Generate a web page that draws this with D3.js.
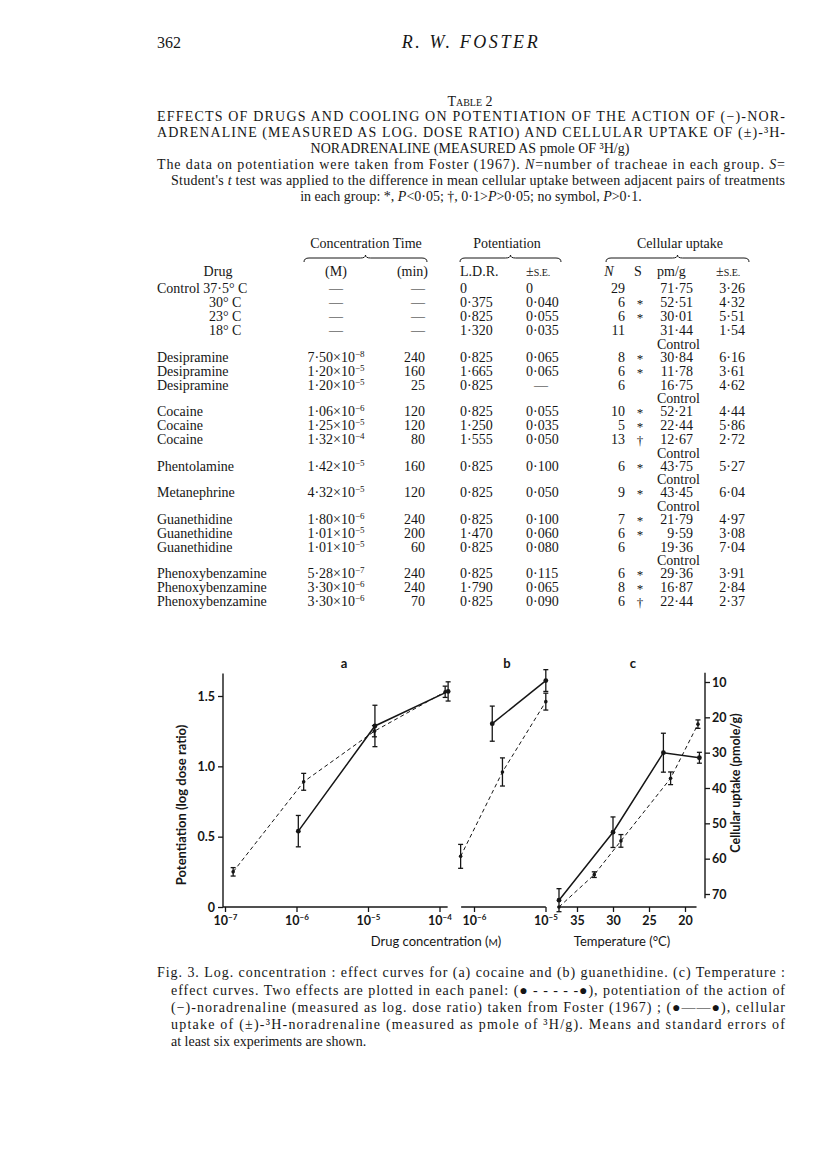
<!DOCTYPE html>
<html>
<head>
<meta charset="utf-8">
<script src="https://cdn.jsdelivr.net/npm/d3@7"></script>
<style>
  body { margin: 0; background: #fff; }
  svg { display: block; }
  .serif { font-family: "Liberation Serif", "Times New Roman", serif; fill: #161616; }
  .sans { font-family: Lato, "Noto Sans", sans-serif; fill: #161616; }
</style>
</head>
<body>
<div id="chart"></div>
<script>
// ---- table data ----
const drugs = ["Control 37·5° C", "30° C", "23° C", "18° C", "Desipramine", "Desipramine", "Desipramine",
  "Cocaine", "Cocaine", "Cocaine", "Phentolamine", "Metanephrine", "Guanethidine", "Guanethidine",
  "Guanethidine", "Phenoxybenzamine", "Phenoxybenzamine", "Phenoxybenzamine"];
const groups = [0, 0, 0, 0, 1, 1, 1, 2, 2, 2, 3, 4, 5, 5, 5, 6, 6, 6];
const concMant = ["", "", "", "", "7·50", "1·20", "1·20", "1·06", "1·25", "1·32", "1·42", "4·32", "1·80", "1·01", "1·01", "5·28", "3·30", "3·30"];
const concExp = [0, 0, 0, 0, -8, -5, -5, -6, -5, -4, -5, -5, -6, -5, -5, -7, -6, -6];
const times = ["—", "—", "—", "—", "240", "160", "25", "120", "120", "80", "160", "120", "240", "200", "60", "240", "240", "70"];
const ldr = ["0", "0·375", "0·825", "1·320", "0·825", "1·665", "0·825", "0·825", "1·250", "1·555", "0·825", "0·825", "0·825", "1·470", "0·825", "0·825", "1·790", "0·825"];
const ldrSE = ["0", "0·040", "0·055", "0·035", "0·065", "0·065", "—", "0·055", "0·035", "0·050", "0·100", "0·050", "0·100", "0·060", "0·080", "0·115", "0·065", "0·090"];
const nTrach = ["29", "6", "6", "11", "8", "6", "6", "10", "5", "13", "6", "9", "7", "6", "6", "6", "8", "6"];
const sig = ["", "*", "*", "", "*", "*", "", "*", "*", "†", "*", "*", "*", "*", "", "*", "*", "†"];
const uptake = ["71·75", "52·51", "30·01", "31·44", "30·84", "11·78", "16·75", "52·21", "22·44", "12·67", "43·75", "43·45", "21·79", "9·59", "19·36", "29·36", "16·87", "22·44"];
const uptakeSE = ["3·26", "4·32", "5·51", "1·54", "6·16", "3·61", "4·62", "4·44", "5·86", "2·72", "5·27", "6·04", "4·97", "3·08", "7·04", "3·91", "2·84", "2·37"];

// ---- figure data ----
// panel a, cocaine
const cocPotConc = [1.3e-7, 1.26e-6, 1.23e-5, 1.2e-4];
const cocPot = [0.25, 0.89, 1.25, 1.53];
const cocPotSE = [0.03, 0.06, 0.04, 0.04];
const cocUpConc = [1.06e-6, 1.25e-5, 1.32e-4];
const cocUp = [52.21, 22.44, 12.67];
const cocUpSE = [4.44, 5.86, 2.72];
// panel b, guanethidine
const guaPotConc = [6.5e-7, 2.5e-6, 1.01e-5];
const guaPot = [0.36, 0.96, 1.46];
const guaPotSE = [0.085, 0.1, 0.06];
const guaUpConc = [1.8e-6, 1.01e-5];
const guaUp = [21.79, 9.59];
const guaUpSE = [4.97, 3.08];
// panel c, temperature
const tempPotT = [37.5, 32.6, 28.9, 22.0, 18.2];
const tempPot = [0, 0.23, 0.47, 0.915, 1.3];
const tempPotSE = [0, 0.02, 0.045, 0.045, 0.03];
const tempUpT = [37.5, 30, 23, 18];
const tempUp = [71.75, 52.51, 30.01, 31.44];
const tempUpSE = [3.26, 4.32, 5.51, 1.54];

const potTicks = [0, 0.5, 1.0, 1.5];
const upTicks = [10, 20, 30, 40, 50, 60, 70];
const concTicksA = [1e-7, 1e-6, 1e-5, 1e-4];
const concTicksB = [1e-6, 1e-5];
const tempTicks = [35, 30, 25, 20];

const W = 816, H = 1154;
const svg = d3.select("#chart").append("svg").attr("width", W).attr("height", H);

function txt(x, y, s, cls, size, anchor) {
  return svg.append("text").attr("class", cls || "serif")
    .attr("x", x).attr("y", y)
    .attr("font-size", size || 14)
    .attr("text-anchor", anchor || "start")
    .text(s);
}
// justified line
function jline(x, y, w, s, size) {
  return txt(x, y, s, "serif", size || 14).attr("textLength", w).attr("lengthAdjust", "spacing");
}

// ---- header ----
txt(157, 48, "362", "serif", 16);
txt(471, 48, "R. W. FOSTER", "serif", 18, "middle").attr("font-style", "italic").attr("letter-spacing", 2.6);

txt(470, 106, "Table 2", "serif", 14, "middle").attr("font-variant", "small-caps");
jline(157, 121, 628, "EFFECTS OF DRUGS AND COOLING ON POTENTIATION OF THE ACTION OF (−)-NOR-");
jline(157, 137, 628, "ADRENALINE (MEASURED AS LOG. DOSE RATIO) AND CELLULAR UPTAKE OF (±)-³H-");
txt(470, 153, "NORADRENALINE (MEASURED AS pmole OF ³H/g)", "serif", 14, "middle");

const n1 = jline(157, 169, 628, "");
n1.append("tspan").text("The data on potentiation were taken from Foster (1967).  ");
n1.append("tspan").attr("font-style", "italic").text("N");
n1.append("tspan").text("=number of tracheae in each group.  ");
n1.append("tspan").attr("font-style", "italic").text("S");
n1.append("tspan").text("=");
const n2 = jline(171, 185, 614, "");
n2.append("tspan").text("Student's ");
n2.append("tspan").attr("font-style", "italic").text("t");
n2.append("tspan").text(" test was applied to the difference in mean cellular uptake between adjacent pairs of treatments");
const n3 = txt(471, 201, "", "serif", 14, "middle");
n3.append("tspan").text("in each group: *, ");
n3.append("tspan").attr("font-style", "italic").text("P");
n3.append("tspan").text("<0·05; †, 0·1>");
n3.append("tspan").attr("font-style", "italic").text("P");
n3.append("tspan").text(">0·05; no symbol, ");
n3.append("tspan").attr("font-style", "italic").text("P");
n3.append("tspan").text(">0·1.");

// ---- table ----
const col = { drug: 157, indent: 209, conc: 336, time: 425, ldr: 460, ldrSE: 526, n: 625, s: 640, pmL: 657, pm: 693, pmSE: 745 };

txt(366, 248, "Concentration Time", "serif", 14, "middle");
txt(507, 248, "Potentiation", "serif", 14, "middle");
txt(680, 248, "Cellular uptake", "serif", 14, "middle");

function brace(x1, x2, y) {
  const m = (x1 + x2) / 2;
  svg.append("path")
    .attr("d", `M${x1},${y + 4} Q${x1},${y} ${x1 + 5},${y} L${m - 5},${y} Q${m},${y} ${m},${y - 3} Q${m},${y} ${m + 5},${y} L${x2 - 5},${y} Q${x2},${y} ${x2},${y + 4}`)
    .attr("fill", "none").attr("stroke", "#161616").attr("stroke-width", 1);
}
brace(304, 427, 258);
brace(460, 561, 258);
brace(606, 749, 258);

txt(218, 276, "Drug", "serif", 14, "middle");
txt(336, 276, "(M)", "serif", 14, "middle").attr("font-variant", "small-caps");
txt(col.time + 3, 276, "(min)", "serif", 14, "end");
txt(col.ldr, 276, "L.D.R.", "serif", 14);
txt(col.ldrSE, 276, "±", "serif", 14).append("tspan").attr("font-size", 10).text("S.E.");
txt(609, 276, "N", "serif", 14, "middle").attr("font-style", "italic");
txt(col.s - 2, 276, "S", "serif", 14, "middle");
txt(col.pmL, 276, "pm/g", "serif", 14);
txt(716, 276, "±", "serif", 14).append("tspan").attr("font-size", 10).text("S.E.");

// a "Control" line in the uptake column precedes every new group after the first
const lineH = 14, groupGap = 26.5, row0 = 293;
const rowY = [];
drugs.forEach((d, i) => {
  const y = i === 0 ? row0 : rowY[i - 1] + (groups[i] === groups[i - 1] ? lineH : groupGap);
  rowY.push(y);
});

drugs.forEach((d, i) => {
  const y = rowY[i];
  const indented = /^\d/.test(d);
  txt(indented ? col.indent : col.drug, y, d);
  if (concMant[i]) {
    const t = txt(col.conc, y, concMant[i] + "×10", "serif", 14, "middle");
    t.append("tspan").attr("font-size", 9).attr("dy", -5).text("−" + Math.abs(concExp[i]));
  } else {
    txt(col.conc, y, "—", "serif", 14, "middle");
  }
  txt(col.time, y, times[i], "serif", 14, "end");
  txt(col.ldr, y, ldr[i]);
  txt(col.ldrSE + (ldrSE[i] === "—" ? 8 : 0), y, ldrSE[i]);
  txt(col.n, y, nTrach[i], "serif", 14, "end");
  txt(col.s, y + 1, sig[i], "serif", 13, "middle");
  txt(col.pm, y, uptake[i], "serif", 14, "end");
  txt(col.pmSE, y, uptakeSE[i], "serif", 14, "end");
  if (i > 0 && groups[i] !== groups[i - 1]) txt(col.pmL, y - 13, "Control");
});

// ---- figure ----
const yPot = d3.scaleLinear().domain([0, 1.5]).range([907, 696]);
const yUp = d3.scaleLinear().domain([10, 70]).range([682, 894]);
const xA = d3.scaleLog().domain([1e-7, 1e-4]).range([225, 439.5]);
const xB = d3.scaleLog().domain([1e-6, 1e-5]).range([474, 545.5]);
const xC = d3.scaleLinear().domain([35, 20]).range([577, 685]);
const ink = "#161616";

const fig = svg.append("g").attr("class", "sans");

function supLabel(sel) {
  sel.each(function (d) {
    const t = d3.select(this).text("");
    t.append("tspan").text("10");
    t.append("tspan").attr("font-size", 8).attr("dy", -5).text("−" + Math.round(-Math.log10(d)));
  });
}
function styleAxis(g) {
  g.select(".domain").remove();
  g.selectAll("line").attr("stroke", ink).attr("stroke-width", 1.3);
  g.selectAll("text").attr("font-family", "Lato, sans-serif").attr("font-weight", 700)
    .attr("font-size", 12.5).attr("fill", ink);
}

// left axis
const gl = fig.append("g").attr("transform", "translate(223,0)")
  .call(d3.axisLeft(yPot).tickValues(potTicks).tickSize(5).tickPadding(3)
    .tickFormat(d => d === 0 ? "0" : d.toFixed(1)));
styleAxis(gl);
fig.append("line").attr("x1", 223).attr("x2", 223).attr("y1", yPot(1.66)).attr("y2", yPot(0))
  .attr("stroke", ink).attr("stroke-width", 1.4);

// bottom axes
function bottom(scale, ticks, x1, x2, fmt) {
  const g = fig.append("g").attr("transform", `translate(0,${yPot(0)})`)
    .call(d3.axisBottom(scale).tickValues(ticks).tickSize(5).tickPadding(4).tickFormat(fmt || (d => d)));
  styleAxis(g);
  if (!fmt) supLabel(g.selectAll(".tick text"));
  fig.append("line").attr("x1", x1).attr("x2", x2).attr("y1", yPot(0)).attr("y2", yPot(0))
    .attr("stroke", ink).attr("stroke-width", 1.4);
}
bottom(xA, concTicksA, 223, xA(1.3e-4));
bottom(xB, concTicksB, xB(6.5e-7) + 0.5, xB(1.01e-5));
bottom(xC, tempTicks, xC(37.7), xC(18.4), d => d);

// right axis
const rx = 705;
const gr = fig.append("g").attr("transform", `translate(${rx},0)`)
  .call(d3.axisRight(yUp).tickValues(upTicks).tickSize(5).tickPadding(2));
styleAxis(gr);
fig.append("line").attr("x1", rx).attr("x2", rx).attr("y1", yUp(7.4)).attr("y2", yUp(71.2))
  .attr("stroke", ink).attr("stroke-width", 1.4);

// axis titles
const xt = fig.append("text").attr("x", 436).attr("y", 946).attr("text-anchor", "middle").attr("font-size", 13);
xt.append("tspan").text("Drug concentration (");
xt.append("tspan").attr("font-size", 10).text("M");
xt.append("tspan").text(")");
fig.append("text").attr("x", 622).attr("y", 946).attr("text-anchor", "middle")
  .attr("font-size", 13).text("Temperature (°C)");
fig.append("text").attr("transform", "translate(186,805) rotate(-90)").attr("text-anchor", "middle")
  .attr("font-size", 13).attr("font-weight", 700).text("Potentiation (log dose ratio)");
fig.append("text").attr("transform", "translate(740,783) rotate(-90)").attr("text-anchor", "middle")
  .attr("font-size", 12.5).attr("font-weight", 700).text("Cellular uptake (pmole/g)");

// panel letters
[["a", 344], ["b", 507], ["c", 633]].forEach(([l, x]) =>
  fig.append("text").attr("x", x).attr("y", 668).attr("text-anchor", "middle")
    .attr("font-size", 13).attr("font-weight", 700).text(l));

// series: dashed = potentiation (left scale), solid = uptake (right scale)
function series(xs, ys, se, xScale, yScale, dashed) {
  const pts = xs.map((x, i) => ({ x: xScale(x), y: yScale(ys[i]), lo: yScale(ys[i] - se[i]), hi: yScale(ys[i] + se[i]) }));
  fig.append("path").datum(pts)
    .attr("d", d3.line().x(d => d.x).y(d => d.y))
    .attr("fill", "none").attr("stroke", ink)
    .attr("stroke-width", dashed ? 1 : 1.5)
    .attr("stroke-dasharray", dashed ? "4,3" : null);
  const eb = fig.append("g").attr("stroke", ink).attr("stroke-width", 1.3);
  pts.filter(d => Math.abs(d.hi - d.lo) > 1).forEach(d => {
    eb.append("line").attr("x1", d.x).attr("x2", d.x).attr("y1", d.lo).attr("y2", d.hi);
    eb.append("line").attr("x1", d.x - 2.5).attr("x2", d.x + 2.5).attr("y1", d.lo).attr("y2", d.lo);
    eb.append("line").attr("x1", d.x - 2.5).attr("x2", d.x + 2.5).attr("y1", d.hi).attr("y2", d.hi);
  });
  fig.append("g").selectAll("circle").data(pts).enter().append("circle")
    .attr("cx", d => d.x).attr("cy", d => d.y).attr("r", dashed ? 1.8 : 2.4).attr("fill", ink);
}
series(cocPotConc, cocPot, cocPotSE, xA, yPot, true);
series(cocUpConc, cocUp, cocUpSE, xA, yUp, false);
series(guaPotConc, guaPot, guaPotSE, xB, yPot, true);
series(guaUpConc, guaUp, guaUpSE, xB, yUp, false);
series(tempPotT, tempPot, tempPotSE, xC, yPot, true);
series(tempUpT, tempUp, tempUpSE, xC, yUp, false);

// ---- caption ----
jline(157, 977, 628, "Fig. 3.  Log. concentration : effect curves for (a) cocaine and (b) guanethidine.  (c) Temperature :");
jline(171, 995, 614, "effect curves.  Two effects are plotted in each panel: (● - - - - -●), potentiation of the action of");
jline(171, 1012, 614, "(−)-noradrenaline (measured as log. dose ratio) taken from Foster (1967) ; (●——●), cellular");
jline(171, 1029, 614, "uptake of (±)-³H-noradrenaline (measured as pmole of ³H/g).  Means and standard errors of");
txt(171, 1046, "at least six experiments are shown.");
</script>
</body>
</html>
